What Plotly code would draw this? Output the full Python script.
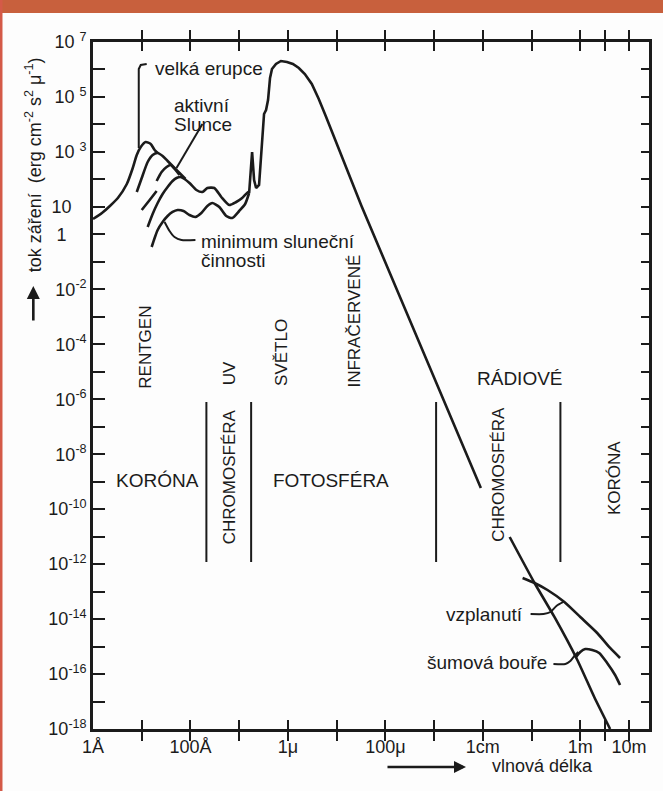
import plotly.graph_objects as go

INK = "#1b1b1b"
FONT = "Liberation Sans, Arial, sans-serif"

# ---------------- data: log10(wavelength / m), log10(flux) ----------------
flare_lwl = [-10.0, -9.816, -9.653, -9.490, -9.306, -9.184, -9.102, -9.020, -8.918, -8.816, -8.735, -8.673]
flare_lf = [0.559, 0.777, 1.032, 1.323, 1.833, 2.415, 2.888, 3.179, 3.361, 3.288, 3.070, 2.961]

active1_lwl = [-9.102, -9.0, -8.878, -8.776, -8.673, -8.571, -8.469, -8.327, -8.204, -8.102]
active1_lf = [1.541, 2.051, 2.633, 2.888, 2.961, 2.852, 2.670, 2.415, 2.197, 2.015]

active2_lwl = [-9.0, -8.837, -8.694, None, -8.694, -8.592, -8.490, -8.408, -8.306, -8.224]
active2_lf = [0.886, 1.250, 1.578, None, 1.942, 2.269, 2.451, 2.524, 2.342, 2.160]

quiet_lwl = [-8.878, -8.776, -8.673, -8.571, -8.469, -8.367, -8.286, -8.204, -8.122, -8.020,
             -7.878, -7.755, -7.653, -7.510, -7.367, -7.204, -7.061, -6.939, -6.816, -6.796]
quiet_lf = [0.268, 0.741, 1.141, 1.469, 1.723, 1.942, 2.051, 2.087, 2.015, 1.869,
            1.614, 1.541, 1.687, 1.687, 1.360, 1.068, 1.178, 1.323, 1.541, 1.505]

minimum_lwl = [-8.796, -8.735, -8.673, -8.571, -8.469, -8.367, -8.265, -8.143, -8.020, -7.898,
               -7.776, -7.653, -7.551, -7.408, -7.265, -7.143, -7.0, -6.878, -6.796]
minimum_lf = [-0.460, -0.132, 0.159, 0.450, 0.668, 0.814, 0.886, 0.850, 0.705, 0.632,
              0.777, 1.032, 1.141, 0.996, 0.668, 0.595, 0.850, 1.105, 1.505]

photo_lwl = [-6.796, -6.735, -6.694, -6.653, -6.592, -6.531, -6.490, -6.449, -6.408, -6.367,
             -6.327, -6.245, -6.143, -6.020, -5.898, -5.776, -5.653, -5.510, -5.367, -5.224,
             -5.061, -4.490, -3.735, -2.918, -2.041]
photo_lf = [1.505, 2.997, 1.978, 1.687, 1.796, 3.143, 4.380, 4.525, 4.889, 5.690,
            6.017, 6.199, 6.309, 6.272, 6.199, 6.054, 5.836, 5.472, 4.926, 4.307,
            3.579, 1.032, -2.134, -5.555, -9.230]

radio_lwl = [-1.449, -0.939, -0.531, -0.061, 0.286, 0.612]
radio_lf = [-11.013, -12.687, -13.924, -15.489, -16.836, -18.0]

burst_lwl = [-1.184, -0.939, -0.673, -0.327, 0.0, 0.347, 0.612, 0.816]
burst_lf = [-12.505, -12.687, -12.942, -13.378, -13.924, -14.507, -15.052, -15.416]

storm_lwl = [-0.102, 0.0, 0.102, 0.245, 0.388, 0.551, 0.714, 0.816]
storm_lf = [-15.416, -15.198, -15.089, -15.125, -15.234, -15.598, -16.035, -16.399]

# region boundaries (wavelength) and their vertical extent (flux)
boundary_lwl = [-7.673, -6.755, -2.959, -0.408]
boundary_lf_span = [-6.100, -11.923]

# leader lines of the curve labels
lead_flare_lwl = [-8.898, -9.020, -9.061, -9.061]
lead_flare_lf = [6.199, 6.163, 6.017, 3.143]
lead_active_lwl = [-7.755, -8.286]
lead_active_lf = [4.016, 2.415]
lead_min_lwl = [-8.531, -8.429, -8.327, -8.184, -7.898]
lead_min_lf = [0.450, 0.122, -0.096, -0.205, -0.205]
lead_burst_lwl = [-1.020, -0.755, -0.612, -0.490, -0.347]
lead_burst_lf = [-13.815, -13.815, -13.742, -13.524, -13.378]
lead_storm_lwl = [-0.551, -0.306, -0.204, -0.122, -0.041]
lead_storm_lf = [-15.635, -15.635, -15.525, -15.344, -15.198]

# axis ticks
x_tick_exp = [-10, -9, -8, -7, -6, -5, -4, -3, -2, -1, 0, 0.5, 1]
x_tick_text = ["1Å", "", "100Å", "", "1μ", "", "100μ", "", "1cm", "", "1m", "", "10m"]
y_tick_exp = list(range(-18, 8))
y_labels = {7: "10\u00a0<sup>7</sup>", 5: "10\u00a0<sup>5</sup>", 3: "10\u00a0<sup>3</sup>",
            1: "10\u00a0\u00a0\u00a0", 0: "1\u00a0\u00a0\u00a0\u00a0"}
for e in range(-18, 0, 2):
    y_labels[e] = "10<sup>%d</sup>" % e
y_tick_text = [y_labels.get(e, "") for e in y_tick_exp]


def pw(v):
    return [None if a is None else 10 ** a for a in v]


fig = go.Figure()


def add_line(lwl, lf, width=2.6, shape="spline"):
    fig.add_trace(go.Scatter(x=pw(lwl), y=pw(lf), mode="lines",
                             line=dict(color=INK, width=width, shape=shape, smoothing=0.6),
                             hoverinfo="skip", showlegend=False, connectgaps=False))


add_line(flare_lwl, flare_lf)
add_line(active1_lwl, active1_lf)
add_line(active2_lwl, active2_lf)
add_line(quiet_lwl, quiet_lf)
add_line(minimum_lwl, minimum_lf)
add_line(photo_lwl, photo_lf, shape="linear")
add_line(radio_lwl, radio_lf)
add_line(burst_lwl, burst_lf)
add_line(storm_lwl, storm_lf)

for b in boundary_lwl:
    add_line([b, b], boundary_lf_span, width=2.0, shape="linear")

add_line(lead_flare_lwl, lead_flare_lf, width=2.0, shape="linear")
add_line(lead_active_lwl, lead_active_lf, width=2.0, shape="linear")
add_line(lead_min_lwl, lead_min_lf, width=2.0)
add_line(lead_burst_lwl, lead_burst_lf, width=2.0)
add_line(lead_storm_lwl, lead_storm_lf, width=2.0)

# dummy trace for right-hand tick axis
fig.add_trace(go.Scatter(x=[1e-10], y=[1], yaxis="y2", mode="markers",
                         marker=dict(opacity=0), hoverinfo="skip", showlegend=False))


def txt(lx, ly, text, size=19, angle=0, xanchor="center"):
    return dict(x=lx, y=ly, xref="x", yref="y", text=text, showarrow=False,
                textangle=angle, xanchor=xanchor, yanchor="middle",
                font=dict(family=FONT, size=size, color=INK))


annotations = [
    txt(-8.776, 6.054, "velká erupce", xanchor="left"),
    txt(-8.388, 4.707, "aktivní", xanchor="left"),
    txt(-8.388, 4.016, "Slunce", xanchor="left"),
    txt(-7.816, -0.242, "minimum sluneční", xanchor="left"),
    txt(-7.816, -0.933, "činnosti", xanchor="left"),
    txt(-1.143, -13.851, "vzplanutí", xanchor="right"),
    txt(-0.633, -15.598, "šumová bouře", xanchor="right"),
    txt(-8.939, -4.099, "RENTGEN", size=17, angle=-90),
    txt(-7.204, -5.045, "UV", size=17, angle=-90),
    txt(-6.143, -4.281, "SVĚTLO", size=17, angle=-90),
    txt(-4.653, -3.153, "INFRAČERVENÉ", size=17, angle=-90),
    txt(-1.245, -5.227, "RÁDIOVÉ"),
    txt(-8.673, -8.939, "KORÓNA"),
    txt(-7.204, -8.830, "CHROMOSFÉRA", size=17, angle=-90),
    txt(-5.122, -8.939, "FOTOSFÉRA"),
    txt(-1.694, -8.721, "CHROMOSFÉRA", size=17, angle=-90),
    txt(0.694, -8.866, "KORÓNA", size=17, angle=-90),
]

# axis titles with arrows (paper coordinates)
PW, PH, L, B = 559.0, 687.0, 93.0, 729.0


def px_(x):
    return (x - L) / PW


def py_(y):
    return (B - y) / PH


annotations += [
    dict(x=px_(33), y=py_(165), xref="paper", yref="paper", showarrow=False, textangle=-90,
         text="tok záření\u00a0 (erg cm<sup>-2</sup> s<sup>2</sup> μ<sup>-1</sup>)",
         font=dict(family=FONT, size=18, color=INK), xanchor="center", yanchor="middle"),
    dict(x=px_(33), y=py_(286), xref="paper", yref="paper", text="", showarrow=True,
         ax=0, ay=36, arrowhead=2, arrowsize=1.0, arrowwidth=2.6, arrowcolor=INK),
    dict(x=px_(545), y=py_(766), xref="paper", yref="paper", showarrow=False,
         text="vlnová délka", font=dict(family=FONT, size=18, color=INK),
         xanchor="center", yanchor="middle"),
    dict(x=px_(468), y=py_(767), xref="paper", yref="paper", text="", showarrow=True,
         ax=-80, ay=0, arrowhead=2, arrowsize=1.0, arrowwidth=2.4, arrowcolor=INK),
]

shapes = [
    dict(type="rect", xref="paper", yref="paper", x0=px_(-5), x1=px_(670), y0=py_(13), y1=py_(-5),
         fillcolor="#c8603d", line=dict(width=0), layer="below"),
    dict(type="rect", xref="paper", yref="paper", x0=px_(-5), x1=px_(2), y0=py_(795), y1=py_(-5),
         fillcolor="#d45a48", line=dict(width=0), layer="below"),
]

fig.update_layout(
    width=663, height=791, autosize=False,
    margin=dict(l=93, r=11, t=42, b=62),
    paper_bgcolor="#fdfdfd", plot_bgcolor="#fdfdfd",
    font=dict(family=FONT, size=18, color=INK),
    annotations=annotations, shapes=shapes,
    xaxis=dict(type="log", range=[-10, 1.41], tickvals=[10 ** e for e in x_tick_exp],
               ticktext=x_tick_text, ticks="inside", ticklen=9, tickwidth=2, tickcolor=INK,
               showline=True, linewidth=2.6, linecolor=INK, mirror="allticks",
               showgrid=False, zeroline=False, tickfont=dict(family=FONT, size=18, color=INK)),
    yaxis=dict(type="log", range=[-18, 7], tickvals=[10 ** e for e in y_tick_exp],
               ticktext=y_tick_text, ticks="inside", ticklen=12, tickwidth=2, tickcolor=INK,
               showline=True, linewidth=2.6, linecolor=INK, mirror=True,
               showgrid=False, zeroline=False, tickfont=dict(family=FONT, size=18, color=INK)),
    yaxis2=dict(type="log", range=[-18, 7], overlaying="y", side="right",
                tickvals=[10 ** e for e in y_tick_exp], ticks="inside", ticklen=8, tickwidth=2,
                tickcolor=INK, showticklabels=False, showline=False, showgrid=False, zeroline=False),
)

fig.write_html("out.html", config={"displayModeBar": False},
               post_script="document.body.style.margin='0';document.body.style.overflow='hidden';")
